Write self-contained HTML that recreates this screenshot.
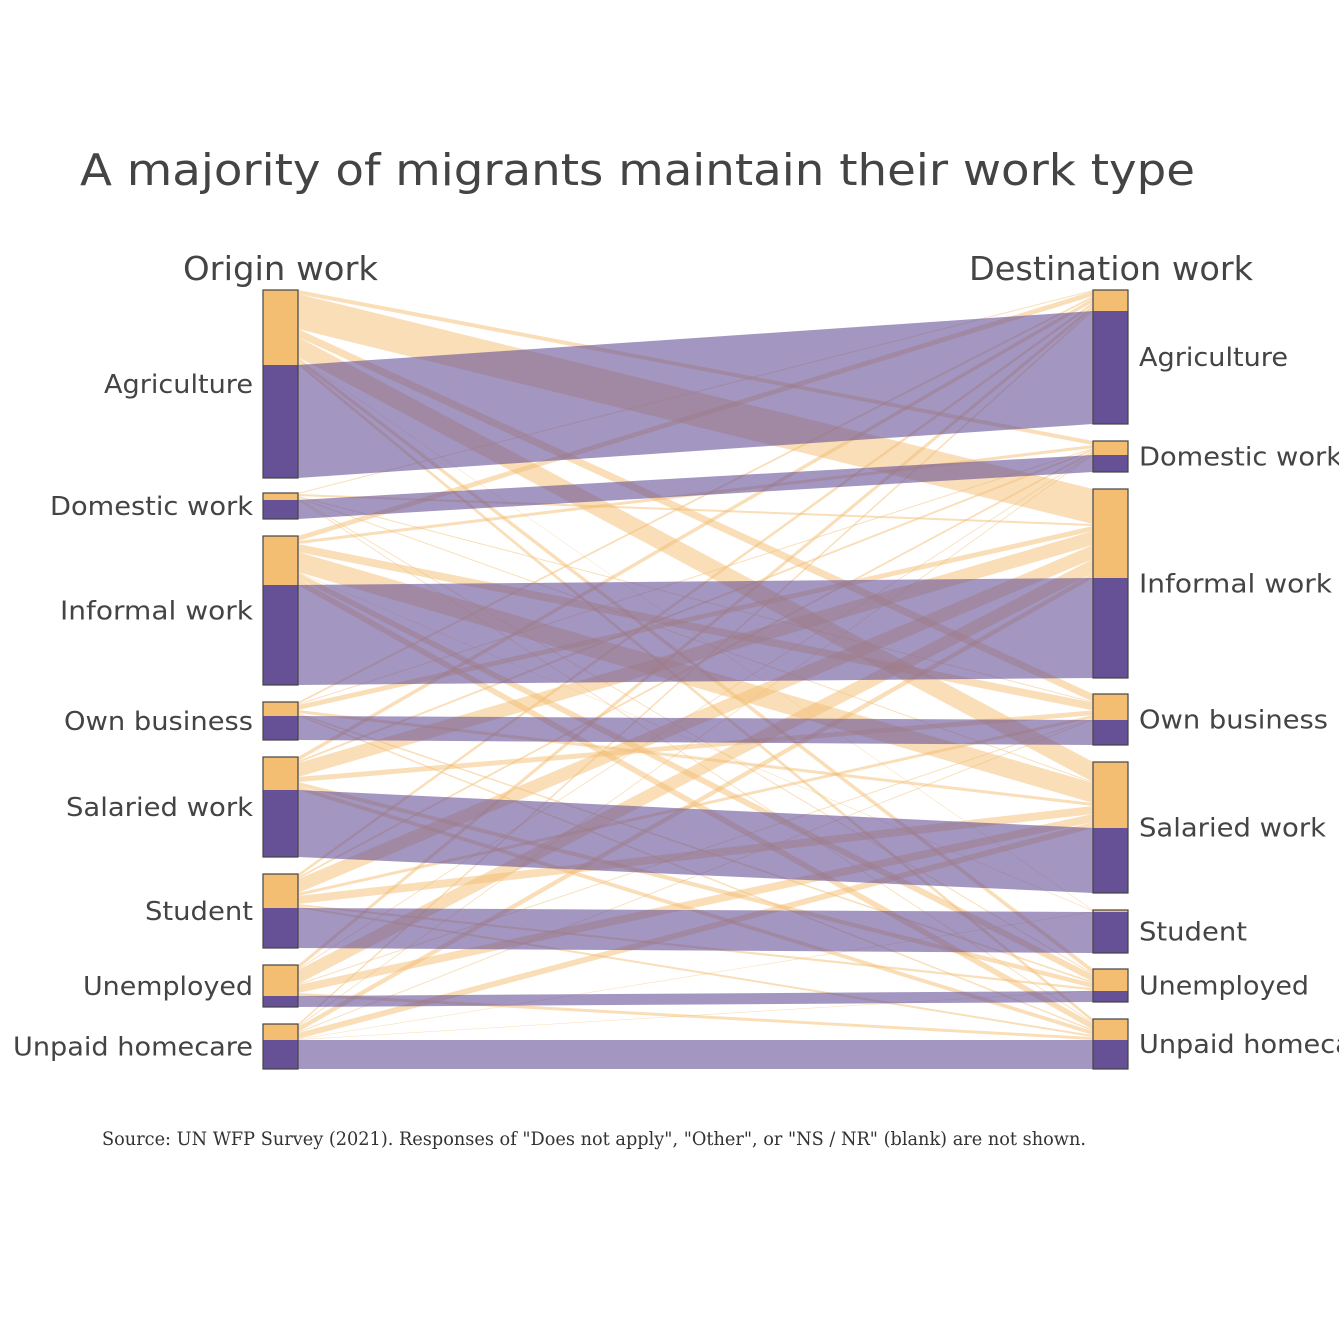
<!DOCTYPE html>
<html><head><meta charset="utf-8">
<style>
html,body{margin:0;padding:0;background:#fff;}
svg{display:block;}
text{font-family:"DejaVu Sans","Liberation Sans",sans-serif;fill:#444;}
</style></head>
<body>
<svg id="s" width="1339" height="1339" xmlns="http://www.w3.org/2000/svg">
<rect width="1339" height="1339" fill="#fff"/>
<text x="80" y="185" font-size="44" textLength="1115" lengthAdjust="spacingAndGlyphs">A majority of migrants maintain their work type</text>
<text x="183" y="280" font-size="33" textLength="195" lengthAdjust="spacingAndGlyphs">Origin work</text>
<text x="969" y="280" font-size="33" textLength="284" lengthAdjust="spacingAndGlyphs">Destination work</text>
<g id="links"></g>
<g id="nodes"></g>
<text x="102" y="1145" font-size="19" textLength="984" lengthAdjust="spacingAndGlyphs" style="font-family:'DejaVu Serif','Liberation Serif',serif;fill:#333">Source: UN WFP Survey (2021). Responses of "Does not apply", "Other", or "NS / NR" (blank) are not shown.</text>
</svg>
<script>
var names=["Agriculture","Domestic work","Informal work","Own business","Salaried work","Student","Unemployed","Unpaid homecare"];
var lw=[149,203,193,189,187,108,170,240];
var L=[[290,365,478],[493,500,519],[536,585,685],[702,716,740],[757,790,857],[874,908,948],[965,996,1007],[1024,1040,1069]];
var R=[[290,311,424],[441,455,472],[489,578,678],[694,720,745],[762,828,893],[910,912,953],[969,991,1002],[1019,1040,1069]];
var M=[
[0,4,35,8,20,0.5,4,3.5],
[1,0,2,1,1,0,1,1],
[5,3,0,8,20,0.5,6,6.5],
[2,1,5,0,3,0,1.5,1.5],
[4,2,14,5,0,0,4,4],
[3,2,14,3,8,0,2,2],
[4,1,14,1,8,0,0,3],
[2,1,5,1,6,0.5,0.5,0]];
var ns="http://www.w3.org/2000/svg";
var lg=document.getElementById("links"),ng=document.getElementById("nodes");
var x0=298,x1=1093;
function band(ya,yb,yc,yd,col,op){
 var p=document.createElementNS(ns,"path");
 p.setAttribute("d","M"+x0+","+ya+"L"+x1+","+yc+"L"+x1+","+yd+"L"+x0+","+yb+"Z");
 p.setAttribute("fill",col);p.setAttribute("fill-opacity",op);lg.appendChild(p);
}
var rowS=M.map(r=>r.reduce((a,b)=>a+b,0));
var colS=names.map((_,j)=>M.reduce((a,r)=>a+r[j],0));
var order=[];
for(var i=0;i<8;i++)for(var j=0;j<8;j++)if(M[i][j]>0)order.push([i,j]);
var lpos={},rpos={};
for(var i=0;i<8;i++){var y=L[i][0],sc=(L[i][1]-L[i][0])/rowS[i];for(var j=0;j<8;j++){if(M[i][j]>0){lpos[i+"_"+j]=[y,y+M[i][j]*sc];y+=M[i][j]*sc;}}}
for(var j=0;j<8;j++){var y=R[j][0],sc=(R[j][1]-R[j][0])/colS[j];for(var i=0;i<8;i++){if(M[i][j]>0){rpos[i+"_"+j]=[y,y+M[i][j]*sc];y+=M[i][j]*sc;}}}
order.forEach(function(o){var k=o[0]+"_"+o[1];band(lpos[k][0],lpos[k][1],rpos[k][0],rpos[k][1],"#f3bd72",0.5);});
for(var i=0;i<8;i++)band(L[i][1],L[i][2],R[i][1],R[i][2],"#665096",0.6);
function rect(x,y0,y1,c){var r=document.createElementNS(ns,"rect");r.setAttribute("x",x);r.setAttribute("y",y0);r.setAttribute("width",35);r.setAttribute("height",Math.max(y1-y0,0.5));r.setAttribute("fill",c);ng.appendChild(r);}
function frame(x,y0,y1){var r=document.createElementNS(ns,"rect");r.setAttribute("x",x);r.setAttribute("y",y0);r.setAttribute("width",35);r.setAttribute("height",y1-y0);r.setAttribute("fill","none");r.setAttribute("stroke","#444");r.setAttribute("stroke-width","1.2");ng.appendChild(r);}
function label(x,y,t,w){var e=document.createElementNS(ns,"text");e.setAttribute("x",x);e.setAttribute("y",y);e.setAttribute("font-size","26");e.setAttribute("textLength",w);e.setAttribute("lengthAdjust","spacingAndGlyphs");e.textContent=t;ng.appendChild(e);}
for(var i=0;i<8;i++){
 rect(263,L[i][0],L[i][1],"#f3bd72");rect(263,L[i][1],L[i][2],"#665096");frame(263,L[i][0],L[i][2]);
 rect(1093,R[i][0],R[i][1],"#f3bd72");rect(1093,R[i][1],R[i][2],"#665096");frame(1093,R[i][0],R[i][2]);
 label(253-lw[i],(L[i][0]+L[i][2])/2+9,names[i],lw[i]);
 label(1139,(R[i][0]+R[i][2])/2+9,names[i],lw[i]);
}
</script>
</body></html>
